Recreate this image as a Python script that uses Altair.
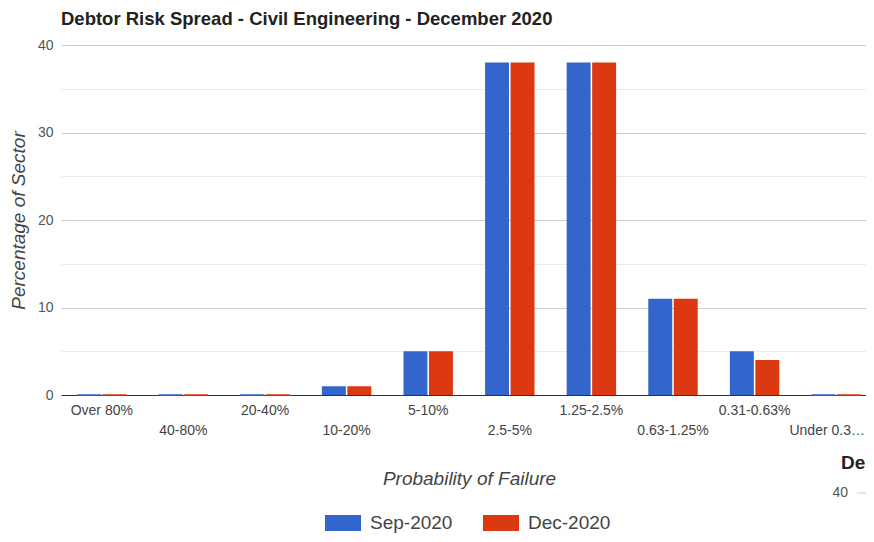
import altair as alt
import pandas as pd

categories = ["Over 80%", "40-80%", "20-40%", "10-20%", "5-10%", "2.5-5%",
              "1.25-2.5%", "0.63-1.25%", "0.31-0.63%", "Under 0.31%"]
series_names = ["Sep-2020", "Dec-2020"]
sep_2020 = [0, 0, 0, 1, 5, 38, 38, 11, 5, 0]
dec_2020 = [0, 0, 0, 1, 5, 38, 38, 11, 4, 0]
y_ticks = [0, 5, 10, 15, 20, 25, 30, 35, 40]
colors = ["#3366CC", "#DC3912"]

rows = []
for c, a, b in zip(categories, sep_2020, dec_2020):
    rows.append({"Band": c, "Period": series_names[0], "Value": a})
    rows.append({"Band": c, "Period": series_names[1], "Value": b})
df = pd.DataFrame(rows)

FONT = "Liberation Sans, Arial, sans-serif"
cat_js = "[" + ",".join("'" + c + "'" for c in categories) + "]"
label_expr = (f"indexof({cat_js}, datum.label) % 2 == 1 ? "
              f"['', truncate(datum.label, 10)] : truncate(datum.label, 10)")
last_cat = categories[-1]

bars = alt.Chart(df).mark_bar().encode(
    x=alt.X("Band:N", sort=categories,
            scale=alt.Scale(paddingInner=0.394, paddingOuter=0.197, range=[0, 816]),
            axis=alt.Axis(title="Probability of Failure", labelAngle=0,
                          labelExpr=label_expr, labelLineHeight=20,
                          labelOverlap=False, ticks=False, labelPadding=8,
                          labelOffset={"condition": {"test": f"datum.label == '{last_cat}'",
                                                     "value": -9},
                                       "value": 0},
                          labelFontSize=14, labelColor="#444", labelLimit=200,
                          domainColor="#333", domainWidth=1.2,
                          titleFontSize=19, titleFontStyle="italic",
                          titleFontWeight="normal", titleColor="#444",
                          titleBaseline="middle", titleY=83, titleX=408)),
    xOffset=alt.XOffset("Period:N", sort=series_names,
                        scale=alt.Scale(paddingInner=0.06)),
    y=alt.Y("Value:Q", scale=alt.Scale(domain=[0, 40], nice=False),
            axis=alt.Axis(title="Percentage of Sector", values=y_ticks,
                          labelExpr="datum.value % 10 == 0 ? datum.label : ''",
                          ticks=False, domain=False, labelPadding=8,
                          labelFontSize=14, labelColor="#555",
                          gridColor={"condition": {"test": "datum.value % 10 == 0",
                                                   "value": "#cccccc"},
                                     "value": "#ebebeb"},
                          titleFontSize=19, titleFontStyle="italic",
                          titleFontWeight="normal", titleColor="#444",
                          titlePadding=9)),
    color=alt.Color("Period:N", sort=series_names,
                    scale=alt.Scale(domain=series_names, range=colors),
                    legend=alt.Legend(title=None, orient="none", direction="horizontal",
                                      legendX=264, legendY=460,
                                      symbolType="M-1,-0.444H1V0.444H-1Z",
                                      symbolSize=1296, symbolStrokeWidth=0,
                                      labelFontSize=19, labelColor="#444",
                                      labelOffset=9, columnPadding=30, padding=0)),
    stroke=alt.Color("Period:N", sort=series_names,
                     scale=alt.Scale(domain=series_names, range=colors), legend=None),
    strokeWidth=alt.condition("datum.Value == 0", alt.value(1.5), alt.value(0)),
)

side_df = pd.DataFrame({"t": ["De", "40"]})
side_title = alt.Chart(side_df).transform_filter("datum.t == 'De'").mark_text(
    align="left", baseline="middle", fontSize=19, fontWeight="bold", color="#222", font=FONT
).encode(text="t:N", x=alt.value(780), y=alt.value(418))
side_tick = alt.Chart(side_df).transform_filter("datum.t == '40'").mark_text(
    align="right", baseline="middle", fontSize=14, color="#555", font=FONT
).encode(text="t:N", x=alt.value(787), y=alt.value(448))
side_grid = alt.Chart(side_df).transform_filter("datum.t == '40'").mark_rule(
    color="#cccccc").encode(x=alt.value(796), x2=alt.value(815), y=alt.value(448))

chart = alt.layer(bars, side_grid, side_tick, side_title).properties(
    width=805, height=350,
    autosize=alt.AutoSizeParams(type="none"),
    padding={"left": 53, "top": 37, "right": 0, "bottom": 138},
    title=alt.TitleParams("Debtor Risk Spread - Civil Engineering - December 2020",
                          anchor="start", frame="group", fontSize=18.5, fontWeight="bold",
                          color="#222", font=FONT, offset=10),
).configure(font=FONT).configure_view(strokeOpacity=0).configure_axis(
    labelFont=FONT, titleFont=FONT).configure_legend(labelFont=FONT)

chart.save("out.html", embed_options={"renderer": "svg", "actions": False})
